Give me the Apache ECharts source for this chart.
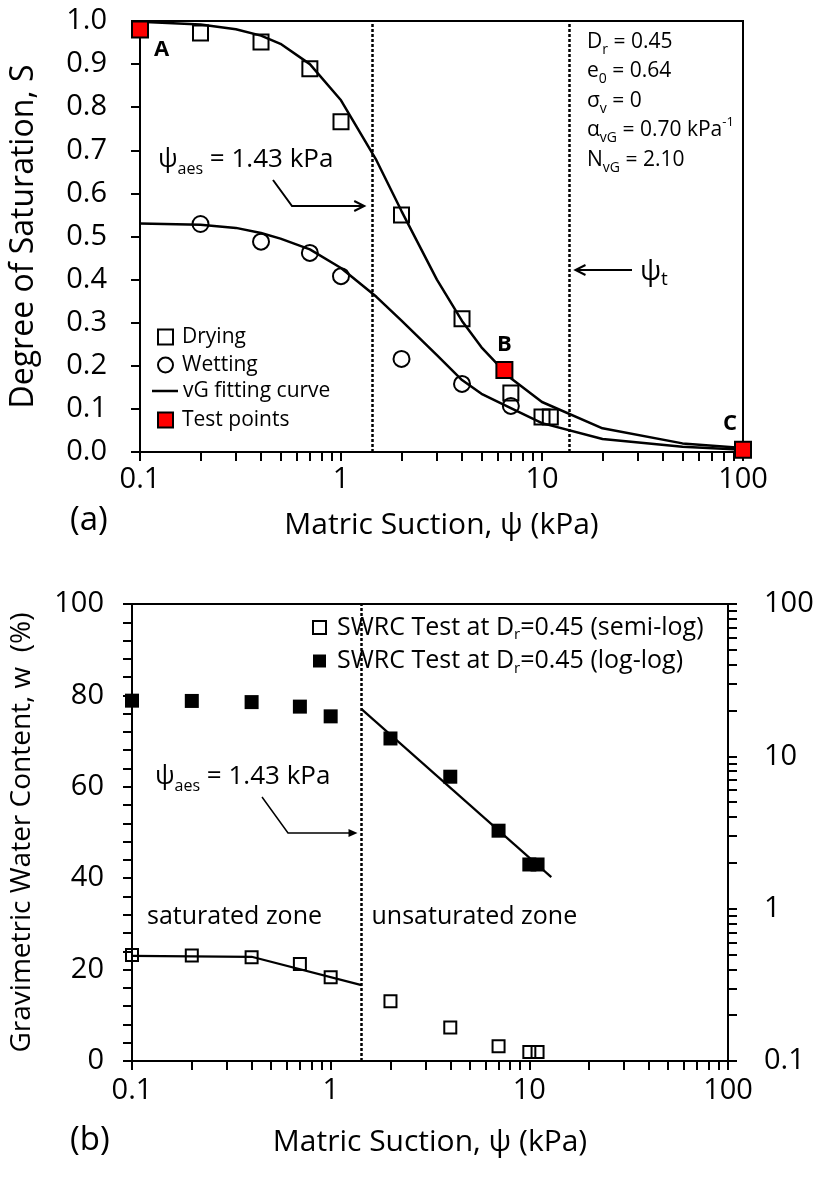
<!DOCTYPE html>
<html>
<head>
<meta charset="utf-8">
<script src="https://cdn.jsdelivr.net/npm/echarts@6/dist/echarts.min.js"></script>
<style>
  html, body { margin: 0; padding: 0; background: #fff; }
  #chart { width: 823px; height: 1177px; }
</style>
</head>
<body>
<div id="chart"></div>
<script>
// ---------- (a) degree of saturation vs matric suction ----------
const suctionDry = [0.2, 0.4, 0.7, 1.0, 2.0, 4.0, 7.0, 10, 11];
const satDry     = [0.972, 0.951, 0.889, 0.766, 0.55, 0.309, 0.137, 0.081, 0.081];
const suctionWet = [0.2, 0.4, 0.7, 1.0, 2.0, 4.0, 7.0];
const satWet     = [0.529, 0.488, 0.462, 0.408, 0.216, 0.158, 0.107];
const testNames   = ['A', 'B', 'C'];
const testSuction = [0.1, 6.5, 100];
const testSat     = [0.98, 0.19, 0.005];
// van Genuchten fitting curves
const fitSuction = [0.1, 0.2, 0.3, 0.4, 0.5, 0.7, 1, 1.5, 2, 3, 4, 5, 7, 10, 20, 50, 100];
const fitDry     = [0.998, 0.992, 0.981, 0.966, 0.947, 0.900, 0.816, 0.677, 0.559, 0.400, 0.304, 0.243, 0.171, 0.116, 0.055, 0.020, 0.009];
const fitWet     = [0.530, 0.527, 0.520, 0.508, 0.495, 0.470, 0.427, 0.360, 0.305, 0.225, 0.167, 0.135, 0.102, 0.067, 0.030, 0.012, 0.005];
const aesSuction = 1.43;   // air-entry suction, kPa
const transSuction = 13.7; // ψt

// ---------- (b) gravimetric water content vs matric suction ----------
const suctionB = [0.1, 0.2, 0.4, 0.7, 1.0, 2.0, 4.0, 7.0, 10, 11];
const waterB   = [23.2, 23.1, 22.7, 21.2, 18.3, 13.1, 7.35, 3.25, 1.95, 1.95];
const semiFitSuction = [0.1, 0.4, 1.43];
const semiFitWater   = [23.0, 22.8, 16.6];
const logFitSuction  = [1.43, 12.9];
const logFitWater    = [20.4, 1.61];

// axis ticks and labels
const logTicks = [0.1, 0.2, 0.3, 0.4, 0.5, 0.6, 0.7, 0.8, 0.9, 1, 2, 3, 4, 5, 6, 7, 8, 9, 10, 20, 30, 40, 50, 60, 70, 80, 90, 100];
const logLabels = [0.1, 1, 10, 100];
const satLabels = [0, 0.1, 0.2, 0.3, 0.4, 0.5, 0.6, 0.7, 0.8, 0.9, 1.0];
const waterLabels = [0, 20, 40, 60, 80, 100];

const FONT = '"Open Sans", "DejaVu Sans", sans-serif';
const BLACK = '#000';
const pairs = (xs, ys) => xs.map((x, i) => [x, ys[i]]);

const lineStyle = { color: BLACK, width: 2 };
const tickStyle = { color: BLACK, width: 2 };
const labelStyle = { color: BLACK, fontFamily: FONT, fontSize: 29 };
const nameStyle = { color: BLACK, fontFamily: FONT, fontSize: 30 };

function logXAxis(gridIndex, nameGap, margin) {
  return {
    type: 'log', logBase: 10, gridIndex, min: 0.1, max: 100,
    axisLine: { show: true, onZero: false, lineStyle },
    axisTick: { show: true, inside: false, length: 9, lineStyle: tickStyle, customValues: logTicks },
    axisLabel: { show: true, margin, ...labelStyle, customValues: logLabels, formatter: v => String(v) },
    minorTick: { show: false },
    splitLine: { show: false },
    name: 'Matric Suction, ψ (kPa)', nameLocation: 'middle', nameGap, nameTextStyle: nameStyle
  };
}

const dotted = { color: BLACK, width: 2.5, type: [3, 2], opacity: 1 };
const openSym = { color: 'rgba(255,255,255,0)', borderColor: BLACK, borderWidth: 2, opacity: 1 };
const legendText = {
  color: BLACK, fontFamily: FONT, fontSize: 21, lineHeight: 26,
  rich: { t: { color: BLACK, fontFamily: FONT, fontSize: 21, lineHeight: 26, padding: [0, 0, 0, 4] } }
};
const padName = name => '{t|' + name + '}';

const option = {
  backgroundColor: '#fff',
  animation: false,
  grid: [
    { left: 133, top: 21, width: 610, height: 431, show: true, borderColor: BLACK, borderWidth: 2, backgroundColor: 'transparent' },
    { left: 128, top: 604, width: 600, height: 457, show: true, borderColor: BLACK, borderWidth: 2, backgroundColor: 'transparent' }
  ],
  xAxis: [logXAxis(0, 58, 13), logXAxis(1, 66, 15)],
  yAxis: [
    {
      type: 'value', gridIndex: 0, min: 0, max: 1, interval: 0.1,
      axisLine: { show: true, onZero: false, lineStyle },
      axisTick: { show: true, inside: false, length: 9, lineStyle: tickStyle },
      axisLabel: { show: true, margin: 33, ...labelStyle, customValues: satLabels, formatter: v => v.toFixed(1) },
      splitLine: { show: false },
      name: 'Degree of Saturation, S', nameLocation: 'middle', nameGap: 100,
      nameTextStyle: { ...nameStyle, fontSize: 32 }
    },
    {
      type: 'value', gridIndex: 1, min: 0, max: 100, interval: 20, position: 'left',
      axisLine: { show: true, onZero: false, lineStyle },
      axisTick: { show: true, inside: false, length: 9, lineStyle: tickStyle },
      minorTick: { show: true, splitNumber: 5, length: 9, lineStyle: tickStyle },
      axisLabel: { show: true, margin: 28, ...labelStyle, customValues: waterLabels },
      splitLine: { show: false },
      name: 'Gravimetric Water Content, w  (%)', nameLocation: 'middle', nameGap: 96,
      nameTextStyle: { ...nameStyle, fontSize: 28 }
    },
    {
      type: 'log', logBase: 10, gridIndex: 1, min: 0.1, max: 100, position: 'right',
      axisLine: { show: true, onZero: false, lineStyle },
      axisTick: { show: true, inside: false, length: 9, lineStyle: tickStyle, customValues: logTicks },
      axisLabel: { show: true, margin: 36, ...labelStyle, customValues: logLabels, formatter: v => String(v) },
      splitLine: { show: false }
    }
  ],
  legend: [
    {
      data: [{ name: 'Drying', icon: 'rect' }, { name: 'Wetting', icon: 'circle' }],
      orient: 'vertical', left: 157, top: 324, padding: 0, itemGap: 2,
      itemWidth: 15, itemHeight: 15, textStyle: legendText, formatter: padName
    },
    {
      data: [{ name: 'vG fitting curve', icon: 'rect', itemStyle: { color: BLACK, borderWidth: 0 } }],
      orient: 'vertical', left: 152, top: 378, padding: 0,
      itemWidth: 26, itemHeight: 2.5, textStyle: legendText, formatter: name => name
    },
    {
      data: [{ name: 'Test points', icon: 'rect' }],
      orient: 'vertical', left: 157, top: 407, padding: 0,
      itemWidth: 15, itemHeight: 15, textStyle: legendText, formatter: padName
    },
    {
      data: [{ name: 'SWRC Test at D_r=0.45 (semi-log)', icon: 'rect' }, { name: 'SWRC Test at D_r=0.45 (log-log)', icon: 'rect' }],
      orient: 'vertical', left: 312, top: 615, padding: 0, itemGap: 6,
      itemWidth: 13, itemHeight: 13,
      formatter: name => '{g|}{n|' + name.replace('D_r', 'D}{s|r}{n|') + '}',
      textStyle: {
        color: BLACK, fontFamily: FONT, fontSize: 25,
        rich: {
          g: { width: 6, lineHeight: 30 },
          n: { color: BLACK, fontFamily: FONT, fontSize: 25, lineHeight: 30 },
          s: { color: BLACK, fontFamily: FONT, fontSize: 15, lineHeight: 14, verticalAlign: 'bottom' }
        }
      }
    }
  ],
  series: [
    {
      name: 'vG fitting curve', type: 'line', xAxisIndex: 0, yAxisIndex: 0,
      data: pairs(fitSuction, fitDry), symbol: 'none', showSymbol: false,
      lineStyle: { color: BLACK, width: 2.5 }, itemStyle: { color: BLACK }, z: 3
    },
    {
      name: 'vG fitting curve', type: 'line', xAxisIndex: 0, yAxisIndex: 0,
      data: pairs(fitSuction, fitWet), symbol: 'none', showSymbol: false,
      lineStyle: { color: BLACK, width: 2.5 }, itemStyle: { color: BLACK }, z: 3
    },
    {
      name: 'Drying', type: 'scatter', xAxisIndex: 0, yAxisIndex: 0,
      data: pairs(suctionDry, satDry), symbol: 'rect', symbolSize: 15,
      itemStyle: openSym, clip: false, z: 4,
      markLine: {
        silent: true, symbol: ['none', 'none'], label: { show: false },
        lineStyle: dotted,
        data: [{ xAxis: aesSuction }, { xAxis: transSuction }]
      }
    },
    {
      name: 'Wetting', type: 'scatter', xAxisIndex: 0, yAxisIndex: 0,
      data: pairs(suctionWet, satWet), symbol: 'circle', symbolSize: 16,
      itemStyle: openSym, clip: false, z: 4
    },
    {
      name: 'Test points', type: 'scatter', xAxisIndex: 0, yAxisIndex: 0,
      symbol: 'rect', symbolSize: 16, clip: false, z: 6,
      itemStyle: { color: '#ff0000', borderColor: BLACK, borderWidth: 2, opacity: 1 },
      label: {
        show: true, formatter: p => testNames[p.dataIndex],
        color: BLACK, fontFamily: FONT, fontSize: 22, fontWeight: 'bold', opacity: 1
      },
      data: testSuction.map((x, i) => ({
        value: [x, testSat[i]],
        label: [
          { position: 'right', offset: [0, 20] },
          { position: 'top', distance: 5 },
          { position: 'top', distance: 6, offset: [-13, 0] }
        ][i]
      }))
    },
    {
      name: 'SWRC Test at D_r=0.45 (semi-log)', type: 'scatter', xAxisIndex: 1, yAxisIndex: 1,
      data: pairs(suctionB, waterB), symbol: 'rect', symbolSize: 12,
      itemStyle: openSym, clip: false, z: 4,
      markLine: {
        silent: true, symbol: ['none', 'none'], label: { show: false },
        lineStyle: dotted, data: [{ xAxis: aesSuction }]
      }
    },
    {
      name: 'SWRC Test at D_r=0.45 (log-log)', type: 'scatter', xAxisIndex: 1, yAxisIndex: 2,
      data: pairs(suctionB, waterB), symbol: 'rect', symbolSize: 14,
      itemStyle: { color: BLACK, opacity: 1 }, clip: false, z: 4
    },
    {
      name: 'semi-log fit', type: 'line', xAxisIndex: 1, yAxisIndex: 1,
      data: pairs(semiFitSuction, semiFitWater), symbol: 'none', showSymbol: false,
      lineStyle: { color: BLACK, width: 2.2 }, z: 3
    },
    {
      name: 'log-log fit', type: 'line', xAxisIndex: 1, yAxisIndex: 2,
      data: pairs(logFitSuction, logFitWater), symbol: 'none', showSymbol: false,
      lineStyle: { color: BLACK, width: 2.2 }, z: 3
    }
  ]
};

const chart = echarts.init(document.getElementById('chart'));
chart.setOption(option);

// annotations anchored on the air-entry and ψt lines
const aesA = chart.convertToPixel({ xAxisIndex: 0 }, aesSuction);
const aesB = chart.convertToPixel({ xAxisIndex: 1 }, aesSuction);
const transA = chart.convertToPixel({ xAxisIndex: 0 }, transSuction);

const sub = (size, lh) => ({ fill: BLACK, fontFamily: FONT, fontSize: size, lineHeight: lh, verticalAlign: 'bottom' });
const sup = (size, lh) => ({ fill: BLACK, fontFamily: FONT, fontSize: size, lineHeight: lh, verticalAlign: 'top' });
const main = (size, lh) => ({ fill: BLACK, fontFamily: FONT, fontSize: size, lineHeight: lh });

function richText(x, y, text, rich, extra) {
  return {
    type: 'text', x, y, z: 50,
    style: Object.assign({ text, fill: BLACK, fontFamily: FONT, verticalAlign: 'middle', align: 'left', rich }, extra || {})
  };
}
const stroke = { stroke: BLACK, lineWidth: 2, fill: null };

chart.setOption({
  graphic: [
    // ψaes label, panel (a)
    richText(158, 160, '{m|ψ}{s|aes}{m| = 1.43 kPa}', { m: main(26, 34), s: sub(16, 15) }),
    { type: 'polyline', z: 50, shape: { points: [[273, 180], [292, 206], [aesA - 8, 206]] }, style: stroke },
    { type: 'polyline', z: 50, shape: { points: [[aesA - 18, 201], [aesA - 8, 206], [aesA - 18, 211]] }, style: stroke },
    // soil parameters
    richText(587, 101,
      '{m|D}{s|r}{m| = 0.45}\n{m|e}{s|0}{m| = 0.64}\n{m|σ}{s|v}{m| = 0}\n{m|α}{s|vG}{m| = 0.70 kPa}{p|-1}\n{m|N}{s|vG}{m| = 2.10}',
      { m: main(21, 29.5), s: sub(14, 13), p: sup(13, 13) }),
    // ψt
    { type: 'line', z: 50, shape: { x1: 632, y1: 270, x2: transA + 6, y2: 270 }, style: stroke },
    { type: 'polyline', z: 50, shape: { points: [[transA + 16, 265], [transA + 6, 270], [transA + 16, 275]] }, style: stroke },
    richText(640, 272, '{m|ψ}{s|t}', { m: main(28, 34), s: sub(19, 17) }),
    // panel tags
    richText(70, 521, '(a)', null, { fontSize: 33 }),
    richText(70, 1141, '(b)', null, { fontSize: 33 }),
    // ψaes label, panel (b)
    richText(155, 777, '{m|ψ}{s|aes}{m| = 1.43 kPa}', { m: main(26, 34), s: sub(16, 15) }),
    { type: 'polyline', z: 50, shape: { points: [[262, 797], [288, 833], [aesB - 12, 833]] }, style: { stroke: BLACK, lineWidth: 1.5, fill: null } },
    { type: 'polygon', z: 50, shape: { points: [[aesB - 4, 833], [aesB - 13, 829], [aesB - 13, 837]] }, style: { fill: BLACK } },
    // zones
    richText(147, 917, 'saturated zone', null, { fontSize: 25 }),
    richText(aesB + 10, 917, 'unsaturated zone', null, { fontSize: 25 })
  ]
});
</script>
</body>
</html>
